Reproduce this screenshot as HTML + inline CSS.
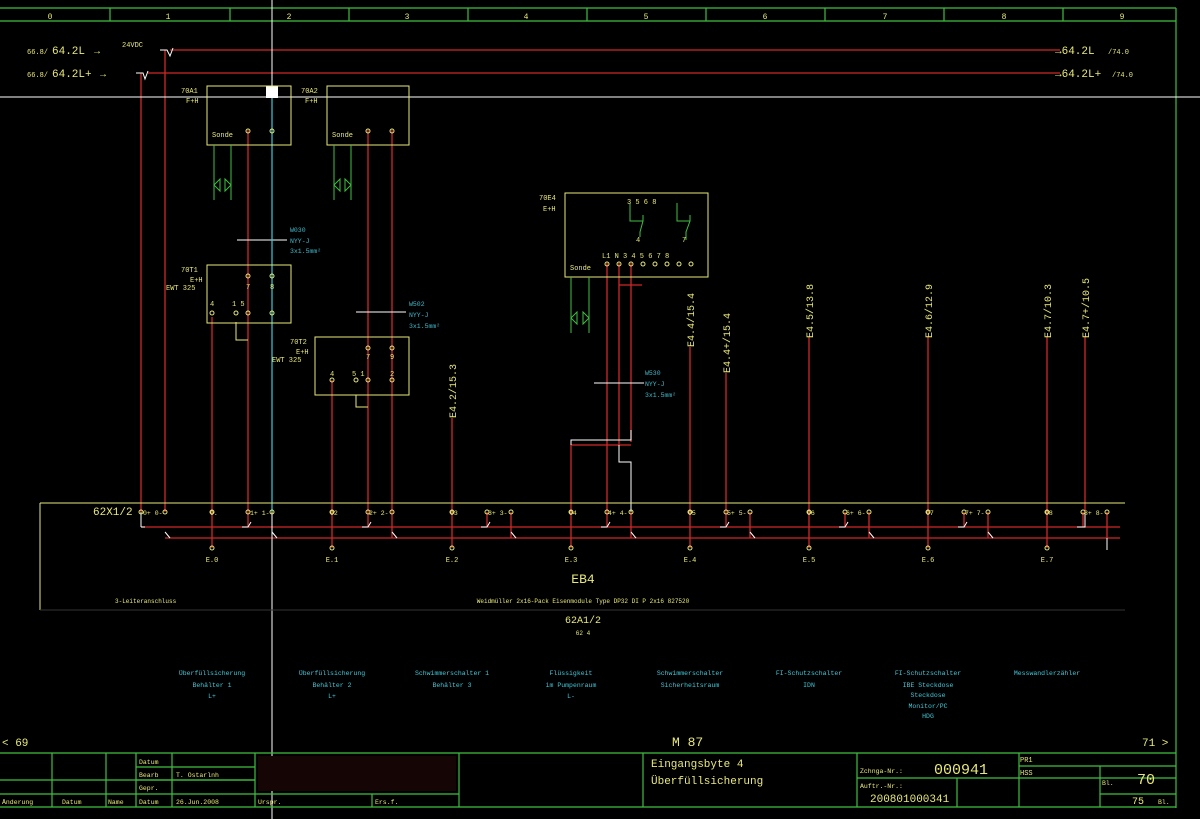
<!DOCTYPE html>
<html><head><meta charset="utf-8"><style>
html,body{margin:0;padding:0;background:#000;}
svg{display:block;font-family:"Liberation Mono",monospace;}
</style></head><body>
<svg width="1200" height="819" viewBox="0 0 1200 819" xmlns="http://www.w3.org/2000/svg">
<rect width="1200" height="819" fill="#000"/>
<!-- ruler -->
<g stroke="#3fbf3f" stroke-width="1.2" fill="none">
<line x1="0" y1="8" x2="1176" y2="8"/><line x1="0" y1="21" x2="1176" y2="21"/>
<line x1="110" y1="8" x2="110" y2="21"/><line x1="230" y1="8" x2="230" y2="21"/><line x1="349" y1="8" x2="349" y2="21"/><line x1="468" y1="8" x2="468" y2="21"/><line x1="587" y1="8" x2="587" y2="21"/><line x1="706" y1="8" x2="706" y2="21"/><line x1="825" y1="8" x2="825" y2="21"/><line x1="944" y1="8" x2="944" y2="21"/><line x1="1063" y1="8" x2="1063" y2="21"/>
<line x1="1176" y1="8" x2="1176" y2="808"/>
</g>
<g fill="#e8e87a" font-size="8" text-anchor="middle">
<text x="50" y="19">0</text><text x="168" y="19">1</text><text x="289" y="19">2</text><text x="407" y="19">3</text><text x="526" y="19">4</text><text x="646" y="19">5</text><text x="765" y="19">6</text><text x="885" y="19">7</text><text x="1004" y="19">8</text><text x="1122" y="19">9</text>
</g>
<!-- bus lines -->
<g stroke="#d02828" stroke-width="1.3" fill="none">
<line x1="170" y1="50" x2="1060" y2="50"/><line x1="148" y1="73" x2="1060" y2="73"/>
<line x1="165" y1="50" x2="165" y2="512"/><line x1="141" y1="73" x2="141" y2="512"/>
<!-- vertical drops -->
<line x1="212" y1="317" x2="212" y2="512"/>
<line x1="248" y1="130" x2="248" y2="512"/>
<line x1="368" y1="130" x2="368" y2="512"/>
<line x1="392" y1="130" x2="392" y2="512"/>
<line x1="332" y1="380" x2="332" y2="512"/>
<line x1="452" y1="418" x2="452" y2="512"/>
<line x1="690" y1="347" x2="690" y2="512"/>
<line x1="726" y1="373" x2="726" y2="512"/>
<line x1="809" y1="337" x2="809" y2="512"/>
<line x1="928" y1="337" x2="928" y2="512"/>
<line x1="1047" y1="337" x2="1047" y2="512"/>
<line x1="1085" y1="337" x2="1085" y2="512"/>
<line x1="607" y1="263" x2="607" y2="512"/>
<line x1="619" y1="263" x2="619" y2="445"/>
<line x1="631" y1="263" x2="631" y2="442"/>
<line x1="571" y1="445" x2="571" y2="512"/>
<line x1="571" y1="445" x2="631" y2="445"/>
<line x1="619" y1="285" x2="642" y2="285"/>
<!-- horizontal strip lines -->
<line x1="141" y1="527" x2="1120" y2="527"/>
<line x1="165" y1="538" x2="1120" y2="538"/>
<line x1="212" y1="512" x2="212" y2="548"/><line x1="332" y1="512" x2="332" y2="548"/><line x1="452" y1="512" x2="452" y2="548"/><line x1="571" y1="512" x2="571" y2="548"/><line x1="690" y1="512" x2="690" y2="548"/><line x1="809" y1="512" x2="809" y2="548"/><line x1="928" y1="512" x2="928" y2="548"/><line x1="1047" y1="512" x2="1047" y2="548"/>
<line x1="248" y1="512" x2="248" y2="527"/><line x1="368" y1="512" x2="368" y2="527"/><line x1="487" y1="512" x2="487" y2="527"/><line x1="607" y1="512" x2="607" y2="527"/><line x1="726" y1="512" x2="726" y2="527"/><line x1="845" y1="512" x2="845" y2="527"/><line x1="964" y1="512" x2="964" y2="527"/><line x1="1083" y1="512" x2="1083" y2="527"/>
<line x1="392" y1="512" x2="392" y2="538"/><line x1="511" y1="512" x2="511" y2="538"/><line x1="631" y1="512" x2="631" y2="538"/><line x1="750" y1="512" x2="750" y2="538"/><line x1="869" y1="512" x2="869" y2="538"/><line x1="988" y1="512" x2="988" y2="538"/><line x1="1107" y1="512" x2="1107" y2="538"/>
</g>
<!-- white step lines -->
<g stroke="#fff" stroke-width="1" fill="none">
<polyline points="571,445 571,440 631,440 631,430"/>
<polyline points="619,445 619,462 631,462 631,512"/>
<polyline points="160,50 167,50 170,56 173,48"/><polyline points="136,73 143,73 145,79 148,71"/>
<line x1="141" y1="527" x2="145" y2="527"/><line x1="141" y1="512" x2="141" y2="527"/>
<polyline points="242,527 248,527 251,522"/><polyline points="362,527 368,527 371,522"/><polyline points="481,527 487,527 490,522"/><polyline points="601,527 607,527 610,522"/><polyline points="720,527 726,527 729,522"/><polyline points="839,527 845,527 848,522"/><polyline points="958,527 964,527 967,522"/><polyline points="1077,527 1085,527 1085,512"/>
<polyline points="165,532 170,538"/><polyline points="272,532 277,538"/><polyline points="392,532 397,538"/><polyline points="511,532 516,538"/><polyline points="631,532 636,538"/><polyline points="750,532 755,538"/><polyline points="869,532 874,538"/><polyline points="988,532 993,538"/><line x1="1107" y1="538" x2="1107" y2="550"/>
<!-- crosshair -->
<line x1="272" y1="0" x2="272" y2="819" stroke="#fff"/><line x1="0" y1="97" x2="1200" y2="97" stroke="#fff"/>
<line x1="237" y1="240" x2="287" y2="240"/><line x1="356" y1="312" x2="406" y2="312"/><line x1="594" y1="383" x2="644" y2="383"/>
</g>
<rect x="266" y="86" width="12" height="12" fill="#fff"/>
<line x1="272" y1="98" x2="272" y2="512" stroke="#40c8d8" stroke-width="1.2"/>
<!-- strip box -->
<g stroke="#e8e87a" stroke-width="1" fill="none">
<line x1="40" y1="503" x2="1125" y2="503"/><line x1="40" y1="503" x2="40" y2="610"/><line x1="40" y1="610" x2="1125" y2="610" stroke="#333"/>
<rect x="207" y="86" width="84" height="59"/><rect x="327" y="86" width="82" height="59"/>
<rect x="207" y="265" width="84" height="58"/><rect x="315" y="337" width="94" height="58"/>
<rect x="565" y="193" width="143" height="84"/>
<polyline points="236,322 236,340 248,340"/><polyline points="356,395 356,407 368,407"/>
</g>
<g fill="none" stroke="#e8e87a" stroke-width="1">
<circle cx="212" cy="313" r="2"/><circle cx="236" cy="313" r="2"/><circle cx="248" cy="313" r="2"/><circle cx="272" cy="313" r="2"/><circle cx="248" cy="276" r="2"/><circle cx="272" cy="276" r="2"/>
<circle cx="248" cy="131" r="2"/><circle cx="272" cy="131" r="2"/><circle cx="368" cy="131" r="2"/><circle cx="392" cy="131" r="2"/>
<circle cx="368" cy="348" r="2"/><circle cx="392" cy="348" r="2"/><circle cx="332" cy="380" r="2"/><circle cx="356" cy="380" r="2"/><circle cx="368" cy="380" r="2"/><circle cx="392" cy="380" r="2"/>
<circle cx="607" cy="264" r="2"/><circle cx="619" cy="264" r="2"/><circle cx="631" cy="264" r="2"/><circle cx="643" cy="264" r="2"/><circle cx="655" cy="264" r="2"/><circle cx="667" cy="264" r="2"/><circle cx="679" cy="264" r="2"/><circle cx="691" cy="264" r="2"/>
<circle cx="141" cy="512" r="2"/><circle cx="165" cy="512" r="2"/><circle cx="212" cy="512" r="2"/><circle cx="248" cy="512" r="2"/><circle cx="272" cy="512" r="2"/><circle cx="332" cy="512" r="2"/><circle cx="368" cy="512" r="2"/><circle cx="392" cy="512" r="2"/><circle cx="452" cy="512" r="2"/><circle cx="487" cy="512" r="2"/><circle cx="511" cy="512" r="2"/><circle cx="571" cy="512" r="2"/><circle cx="607" cy="512" r="2"/><circle cx="631" cy="512" r="2"/><circle cx="690" cy="512" r="2"/><circle cx="726" cy="512" r="2"/><circle cx="750" cy="512" r="2"/><circle cx="809" cy="512" r="2"/><circle cx="845" cy="512" r="2"/><circle cx="869" cy="512" r="2"/><circle cx="928" cy="512" r="2"/><circle cx="964" cy="512" r="2"/><circle cx="988" cy="512" r="2"/><circle cx="1047" cy="512" r="2"/><circle cx="1083" cy="512" r="2"/><circle cx="1107" cy="512" r="2"/>
<circle cx="212" cy="548" r="2"/><circle cx="332" cy="548" r="2"/><circle cx="452" cy="548" r="2"/><circle cx="571" cy="548" r="2"/><circle cx="690" cy="548" r="2"/><circle cx="809" cy="548" r="2"/><circle cx="928" cy="548" r="2"/><circle cx="1047" cy="548" r="2"/>
</g>
<!-- green sensors -->
<g stroke="#3fbf3f" stroke-width="1" fill="none">
<path d="M214,145V200M231,145V200M214,185l6,-6v12zM231,185l-6,-6v12z"/>
<path d="M334,145V200M351,145V200M334,185l6,-6v12zM351,185l-6,-6v12z"/>
<path d="M571,277V333M589,277V333M571,318l6,-6v12zM589,318l-6,-6v12z"/>
<path d="M630,203V221H643V215M643,221L640,232V237M677,203V221H690V215M690,221L686,232V240"/>
</g>
<!-- labels yellow -->
<g fill="#e8e87a" font-size="7">
<text x="27" y="54">66.8/</text><text x="27" y="77">66.8/</text>
<text x="122" y="47">24VDC</text>
<text x="181" y="93">70A1</text><text x="186" y="103">F+H</text><text x="301" y="93">70A2</text><text x="305" y="103">F+H</text>
<text x="212" y="137">Sonde</text><text x="332" y="137">Sonde</text>
<text x="181" y="272">70T1</text><text x="190" y="282">E+H</text><text x="166" y="290">EWT 325</text>
<text x="210" y="306">4</text><text x="232" y="306">1 5</text><text x="246" y="289">7</text><text x="270" y="289">8</text>
<text x="290" y="344">70T2</text><text x="296" y="354">E+H</text><text x="272" y="362">EWT 325</text>
<text x="330" y="376">4</text><text x="352" y="376">5 1</text><text x="390" y="376">2</text><text x="366" y="359">7</text><text x="390" y="359">9</text>
<text x="539" y="200">70E4</text><text x="543" y="211">E+H</text><text x="570" y="270">Sonde</text>
<text x="602" y="258">L1 N  3  4  5  6  7  8</text>
<text x="627" y="204">3  5   6  8</text><text x="636" y="242">4</text><text x="682" y="242">7</text>
<text x="93" y="515" font-size="11">62X1/2</text>
<g font-size="6.5"><text x="143" y="515">0+ 0-</text><text x="210" y="515">0.</text><text x="250" y="515">1+ 1-</text><text x="330" y="515">02</text><text x="369" y="515">2+ 2-</text><text x="450" y="515">03</text><text x="488" y="515">3+ 3-</text><text x="569" y="515">04</text><text x="608" y="515">4+ 4-</text><text x="688" y="515">05</text><text x="727" y="515">5+ 5-</text><text x="807" y="515">06</text><text x="846" y="515">6+ 6-</text><text x="926" y="515">07</text><text x="965" y="515">7+ 7-</text><text x="1045" y="515">08</text><text x="1084" y="515">8+ 8-</text></g>
<g text-anchor="middle"><text x="212" y="562">E.0</text><text x="332" y="562">E.1</text><text x="452" y="562">E.2</text><text x="571" y="562">E.3</text><text x="690" y="562">E.4</text><text x="809" y="562">E.5</text><text x="928" y="562">E.6</text><text x="1047" y="562">E.7</text></g>
<text x="583" y="583" font-size="13" text-anchor="middle">EB4</text>
<text x="115" y="603" font-size="6">3-Leiteranschluss</text>
<text x="583" y="603" font-size="6" text-anchor="middle">Weidmüller 2x16-Pack Eisenmodule Type DP32 DI P 2x16  827520</text>
<text x="583" y="623" font-size="10" text-anchor="middle">62A1/2</text>
<text x="583" y="635" font-size="6" text-anchor="middle">62 4</text>
<text x="2" y="746" font-size="11">&lt; 69</text><text x="1142" y="746" font-size="11">71 &gt;</text>
<text x="672" y="746" font-size="13">M 87</text>
<text x="1020" y="762" font-size="7">PR1</text><text x="1020" y="775" font-size="7">HSS</text>
</g>
<g fill="#e8e87a">
<text x="52" y="54" font-size="11">64.2L</text><text x="52" y="77" font-size="11">64.2L+</text>
<text x="94" y="54" font-size="10">→</text><text x="100" y="77" font-size="10">→</text>
<text x="1055" y="54" font-size="11">→64.2L</text><text x="1108" y="54" font-size="7">/74.0</text>
<text x="1055" y="77" font-size="11">→64.2L+</text><text x="1112" y="77" font-size="7">/74.0</text>
<g font-size="10">
<text transform="translate(456,418) rotate(-90)">E4.2/15.3</text>
<text transform="translate(694,347) rotate(-90)">E4.4/15.4</text>
<text transform="translate(730,373) rotate(-90)">E4.4+/15.4</text>
<text transform="translate(813,338) rotate(-90)">E4.5/13.8</text>
<text transform="translate(932,338) rotate(-90)">E4.6/12.9</text>
<text transform="translate(1051,338) rotate(-90)">E4.7/10.3</text>
<text transform="translate(1089,338) rotate(-90)">E4.7+/10.5</text>
</g>
</g>
<!-- cyan labels -->
<g fill="#40b8c8" font-size="6.5">
<text x="290" y="232">W030</text><text x="290" y="243">NYY-J</text><text x="290" y="253">3x1.5mm²</text>
<text x="409" y="306">W502</text><text x="409" y="317">NYY-J</text><text x="409" y="328">3x1.5mm²</text>
<text x="645" y="375">W530</text><text x="645" y="386">NYY-J</text><text x="645" y="397">3x1.5mm²</text>
</g>
<g fill="#40c8d8" font-size="6.5" text-anchor="middle">
<text x="212" y="675">Überfüllsicherung</text><text x="212" y="687">Behälter 1</text><text x="212" y="698">L+</text>
<text x="332" y="675">Überfüllsicherung</text><text x="332" y="687">Behälter 2</text><text x="332" y="698">L+</text>
<text x="452" y="675">Schwimmerschalter 1</text><text x="452" y="687">Behälter 3</text>
<text x="571" y="675">Flüssigkeit</text><text x="571" y="687">im Pumpenraum</text><text x="571" y="698">L-</text>
<text x="690" y="675">Schwimmerschalter</text><text x="690" y="687">Sicherheitsraum</text>
<text x="809" y="675">FI-Schutzschalter</text><text x="809" y="687">IDN</text>
<text x="928" y="675">FI-Schutzschalter</text><text x="928" y="687">IBE Steckdose</text><text x="928" y="697">Steckdose</text><text x="928" y="708">Monitor/PC</text><text x="928" y="718">HDG</text>
<text x="1047" y="675">Messwandlerzähler</text>
</g>
<!-- title block -->
<g stroke="#3fbf3f" stroke-width="1.2" fill="none">
<line x1="0" y1="753" x2="1176" y2="753"/><line x1="0" y1="807" x2="1176" y2="807"/>
<line x1="0" y1="780" x2="255" y2="780"/><line x1="0" y1="794" x2="459" y2="794"/><line x1="136" y1="767" x2="255" y2="767"/><line x1="136" y1="780" x2="255" y2="780"/>
<line x1="52" y1="753" x2="52" y2="807"/><line x1="106" y1="753" x2="106" y2="807"/><line x1="136" y1="753" x2="136" y2="807"/><line x1="172" y1="753" x2="172" y2="807"/><line x1="255" y1="753" x2="255" y2="807"/><line x1="372" y1="794" x2="372" y2="807"/><line x1="459" y1="753" x2="459" y2="807"/>
<line x1="643" y1="753" x2="643" y2="807"/><line x1="857" y1="753" x2="857" y2="807"/><line x1="1019" y1="753" x2="1019" y2="807"/><line x1="1100" y1="766" x2="1100" y2="807"/>
<line x1="1019" y1="766" x2="1176" y2="766"/><line x1="1100" y1="778" x2="1176" y2="778"/><line x1="857" y1="778" x2="1100" y2="778"/><line x1="957" y1="778" x2="957" y2="807"/><line x1="1100" y1="794" x2="1176" y2="794"/>
</g>
<rect x="258" y="756" width="198" height="35" fill="#150505"/>
<g fill="#e8e87a" font-size="6.5">
<text x="139" y="764">Datum</text><text x="139" y="777">Bearb</text><text x="176" y="777">T. Ostarlnh</text><text x="139" y="790">Gepr.</text>
<text x="2" y="804">Änderung</text><text x="62" y="804">Datum</text><text x="108" y="804">Name</text><text x="139" y="804">Datum</text><text x="176" y="804">26.Jun.2008</text>
<text x="258" y="804">Urspr.</text><text x="375" y="804">Ers.f.</text>
<text x="860" y="773">Zchnga-Nr.:</text><text x="860" y="788">Auftr.-Nr.:</text>
<text x="1102" y="785">Bl.</text><text x="1158" y="804">Bl.</text>
</g>
<g fill="#e8e87a">
<text x="651" y="767" font-size="11">Eingangsbyte  4</text><text x="651" y="784" font-size="11">Überfüllsicherung</text>
<text x="934" y="774" font-size="15">000941</text><text x="870" y="802" font-size="11">200801000341</text>
<text x="1137" y="784" font-size="15">70</text><text x="1132" y="804" font-size="10">75</text>
</g>
</svg>
</body></html>
